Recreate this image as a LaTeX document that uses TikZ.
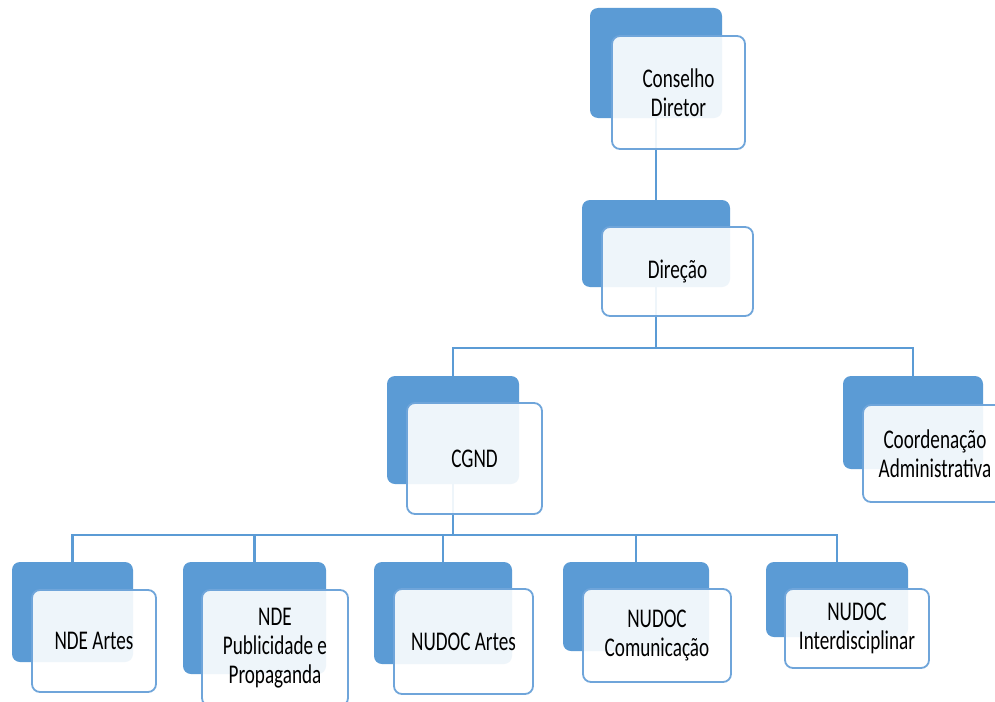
\documentclass[tikz,border=0pt]{standalone}
\usepackage{fontspec}
\setmainfont{Carlito}[FakeStretch=0.71]

\definecolor{boxblue}{HTML}{5B9BD5}
\definecolor{edgeblue}{HTML}{6FA5DA}

\begin{document}
\begin{tikzpicture}[
            x = 1pt, y = -1pt, % pixel grid, y goes down
            back/.style = {fill = boxblue, rounded corners = 8pt, inner sep = 0pt},
            front/.style = {draw = edgeblue, line width = 1.8pt, fill = white,
                fill opacity = 0.9, text opacity = 1, rounded corners = 8pt,
                align = center, inner sep = 0pt,
                font = \fontsize{27}{29}\selectfont},
            link/.style = {draw = boxblue, line width = 2.2pt}
        ]

        \useasboundingbox[fill = white] (0,0) rectangle (995,701);

        % back boxes
        \node[back, minimum width = 132pt, minimum height = 110pt] (cd-b) at (656,63) {};
        \node[back, minimum width = 148pt, minimum height = 87pt] (dir-b) at (656,243.5) {};
        \node[back, minimum width = 132pt, minimum height = 108pt] (cgnd-b) at (453,430) {};
        \node[back, minimum width = 140pt, minimum height = 93pt] (ca-b) at (913,422.5) {};
        \node[back, minimum width = 121pt, minimum height = 100pt] (ndea-b) at (72.5,612) {};
        \node[back, minimum width = 143pt, minimum height = 112pt] (ndepp-b) at (254.5,618) {};
        \node[back, minimum width = 138pt, minimum height = 102pt] (nua-b) at (443,613) {};
        \node[back, minimum width = 146pt, minimum height = 89pt] (nuc-b) at (636,606.5) {};
        \node[back, minimum width = 142pt, minimum height = 75pt] (nui-b) at (837,599.5) {};

        % connectors
        \coordinate (bus1) at (656,348);
        \coordinate (bus2) at (453,535);
        \draw[link] (cd-b.south) -- (dir-b.north);
        \draw[link] (dir-b.south) -- (bus1) -| (cgnd-b.north);
        \draw[link] (bus1) -| (ca-b.north);
        \draw[link] (cgnd-b.south) -- (bus2) -| (ndea-b.north);
        \draw[link] (bus2) -| (ndepp-b.north);
        \draw[link] (bus2) -| (nua-b.north);
        \draw[link] (bus2) -| (nuc-b.north);
        \draw[link] (bus2) -| (nui-b.north);

        % front boxes
        \node[front, minimum width = 133pt, minimum height = 113pt] (cd) at (678.5,92.5) {Conselho\\Diretor};
        \node[front, minimum width = 151pt, minimum height = 89pt] (dir) at (677.5,271.5) {Direção};
        \node[front, minimum width = 135pt, minimum height = 111pt] (cgnd) at (474.5,458.5) {CGND};
        \node[front, minimum width = 144pt, minimum height = 97pt] (ca) at (935,453.5) {Coordenação\\Administrativa};
        \node[front, minimum width = 124pt, minimum height = 102pt] (ndea) at (94,641) {NDE Artes};
        \node[front, minimum width = 146pt, minimum height = 116pt] (ndepp) at (275,648) {NDE\\Publicidade e\\Propaganda};
        \node[front, minimum width = 139pt, minimum height = 105pt] (nua) at (463.5,641.5) {NUDOC Artes};
        \node[front, minimum width = 148pt, minimum height = 93pt] (nuc) at (657,635.5) {NUDOC\\Comunicação};
        \node[front, minimum width = 144pt, minimum height = 79pt] (nui) at (857,628.5) {NUDOC\\Interdisciplinar};
    \end{tikzpicture}
\end{document}
